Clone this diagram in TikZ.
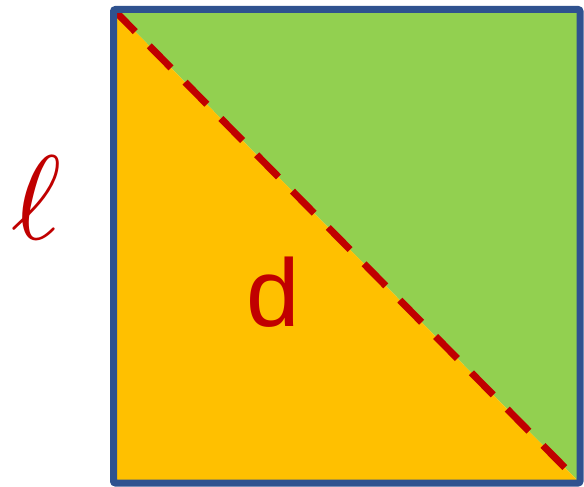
\documentclass[tikz,border=0pt]{standalone}
\usepackage{fontspec}
\newfontfamily\dfont{Liberation Sans}
\definecolor{sqblue}{HTML}{2F528F}
\definecolor{sqgreen}{HTML}{92D050}
\definecolor{sqorange}{HTML}{FFC000}
\definecolor{sqred}{HTML}{C00000}
\begin{document}
\begin{tikzpicture}[x=1pt,y=-1pt,
  lbl/.style={text=sqred, inner sep=0pt}]
\useasboundingbox (0,0) rectangle (584,487);
\coordinate (tl) at (113.5,9.5);
\coordinate (tr) at (580,9.5);
\coordinate (br) at (580,483);
\coordinate (bl) at (113.5,483);
\fill[sqgreen] (tl) -- (tr) -- (br) -- cycle;
\fill[sqorange] (tl) -- (bl) -- (br) -- cycle;
\draw[sqred, line width=7pt, dash pattern=on 31pt off 20pt] (tl) -- (br);
\draw[sqblue, line width=7pt, rounded corners=2pt] (tl) rectangle (br);
\node[lbl] (d) at (273,292) {\fontsize{96}{96}\selectfont\dfont d};
\node[lbl] (l) at (37,198) {\scalebox{12}{$\ell$}};
\end{tikzpicture}
\end{document}
